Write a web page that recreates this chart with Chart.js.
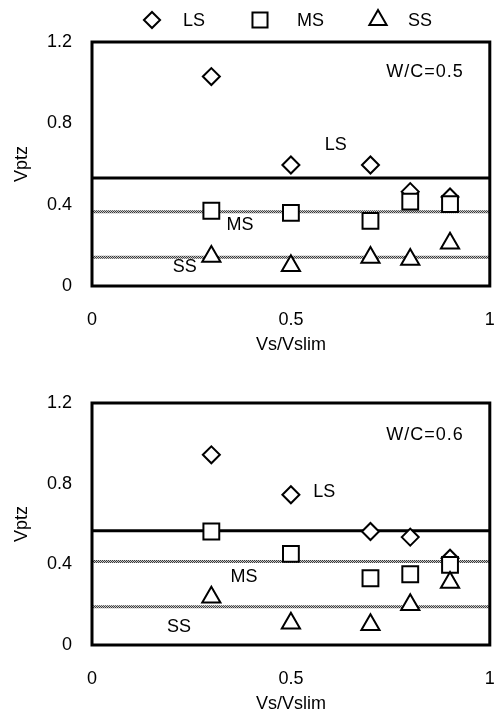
<!DOCTYPE html>
<html>
<head>
<meta charset="utf-8">
<script src="https://cdn.jsdelivr.net/npm/chart.js@4.4.1/dist/chart.umd.min.js"></script>
<style>
  html, body { margin: 0; padding: 0; background: #fff; }
  #wrap { position: relative; width: 503px; height: 717px; }
  .box { position: absolute; left: 0; width: 503px; }
  #boxTop { top: 0; height: 358px; }
  #boxBot { top: 358px; height: 359px; }
</style>
</head>
<body>
<div id="wrap">
  <div class="box" id="boxTop"><canvas id="cTop"></canvas></div>
  <div class="box" id="boxBot"><canvas id="cBot"></canvas></div>
</div>
<script>
// Shear-span ratio positions (Vs/Vslim)
const vsRatio = [0.3, 0.5, 0.7, 0.8, 0.9];

// W/C = 0.5
const ls05 = [1.03, 0.595, 0.595, 0.464, 0.438];
const ms05 = [0.37, 0.36, 0.32, 0.415, 0.403];
const ss05 = [0.145, 0.10, 0.14, 0.13, 0.21];
const ref05 = { ls: 0.531, ms: 0.365, ss: 0.142 };

// W/C = 0.6
const ls06 = [0.943, 0.745, 0.563, 0.535, 0.43];
const ms06 = [0.563, 0.452, 0.331, 0.351, 0.397];
const ss06 = [0.237, 0.108, 0.10, 0.199, 0.31];
const ref06 = { ls: 0.567, ms: 0.414, ss: 0.19 };

const xTicks = [0, 0.5, 1];
const yTicks = [0, 0.4, 0.8, 1.2];
const seriesNames = ['LS', 'MS', 'SS'];

// In-plot annotations: [text, x, y]
const notes05 = [['W/C=0.5', 0.837, 1.05], ['LS', 0.613, 0.694], ['MS', 0.372, 0.30], ['SS', 0.233, 0.092]];
const notes06 = [['W/C=0.6', 0.837, 1.043], ['LS', 0.584, 0.761], ['MS', 0.382, 0.336], ['SS', 0.219, 0.091]];

const FONT = '"Liberation Sans", Arial, Helvetica, sans-serif';
const FSIZE = 18;

// 1px checker pattern for the dithered grey reference lines
function ditherPattern() {
  const c = document.createElement('canvas');
  c.width = 2; c.height = 2;
  const g = c.getContext('2d');
  g.fillStyle = '#c8c8c8'; g.fillRect(0, 0, 2, 2);
  g.fillStyle = '#3a3a3a'; g.fillRect(0, 0, 1, 1); g.fillRect(1, 1, 1, 1);
  return g.createPattern(c, 'repeat');
}

const markerStyles = {
  LS: { pointStyle: 'rectRot', radius: 8.5 },
  MS: { pointStyle: 'rect', radius: 11.2 },
  SS: { pointStyle: 'triangle', radius: 10.5 }
};

function pts(ys) { return vsRatio.map((x, i) => ({ x: x, y: ys[i] })); }
function hline(v) { return [{ x: 0, y: v }, { x: 1, y: v }]; }

function buildDatasets(ls, ms, ss, ref) {
  const pattern = ditherPattern();
  const marker = (name, data, order) => ({
    type: 'scatter', label: name, data: pts(data), order: order,
    pointStyle: markerStyles[name].pointStyle,
    pointRadius: markerStyles[name].radius,
    pointHoverRadius: markerStyles[name].radius,
    pointBorderWidth: 2,
    pointBorderColor: '#000',
    pointBackgroundColor: '#fff',
    showLine: false
  });
  const line = (v, color, order) => ({
    type: 'line', label: '', data: hline(v), order: order,
    borderColor: color, borderWidth: 3, pointRadius: 0, fill: false
  });
  return [
    marker('SS', ss, 1),
    marker('MS', ms, 2),
    marker('LS', ls, 3),
    line(ref.ls, '#000', 10),
    line(ref.ms, pattern, 11),
    line(ref.ss, pattern, 12)
  ];
}

// Thick frame round the plotting area
const framePlugin = {
  id: 'frame',
  afterDatasetsDraw(chart) {
    const a = chart.chartArea, ctx = chart.ctx;
    ctx.save();
    ctx.strokeStyle = '#000';
    ctx.lineWidth = 3;
    ctx.strokeRect(a.left, a.top, a.right - a.left, a.bottom - a.top);
    ctx.restore();
  }
};

// Text notes placed at data coordinates
const notesPlugin = {
  id: 'notes',
  afterDatasetsDraw(chart, args, opts) {
    const ctx = chart.ctx, xs = chart.scales.x, ys = chart.scales.y;
    ctx.save();
    ctx.fillStyle = '#000';
    ctx.font = FSIZE + 'px ' + FONT;
    ctx.textAlign = 'center';
    ctx.textBaseline = 'middle';
    (opts.items || []).forEach(([t, x, y]) => {
      ctx.letterSpacing = t.length > 3 ? '1px' : '0px';
      ctx.fillText(t, xs.getPixelForValue(x), ys.getPixelForValue(y));
    });
    ctx.restore();
  }
};

// Marker key across the top, using each series' own marker style
const keyPlugin = {
  id: 'key',
  afterDraw(chart, args, opts) {
    if (!opts.show) return;
    const ctx = chart.ctx;
    const slots = [[152, 183], [260, 297], [378, 408]];
    ctx.save();
    seriesNames.forEach((name, i) => {
      const st = markerStyles[name];
      ctx.strokeStyle = '#000';
      ctx.fillStyle = '#fff';
      ctx.lineWidth = 2;
      Chart.helpers.drawPoint(ctx, { pointStyle: st.pointStyle, radius: st.radius * 0.95, borderWidth: 2 }, slots[i][0], 20);
      ctx.fillStyle = '#000';
      ctx.font = FSIZE + 'px ' + FONT;
      ctx.textAlign = 'left';
      ctx.textBaseline = 'middle';
      ctx.fillText(name, slots[i][1], 21);
    });
    ctx.restore();
  }
};

const noPad = () => ({ left: 0, right: 0, top: 0, bottom: 0 });

function makeChart(id, ls, ms, ss, ref, notes, showKey, topPad, xHeight) {
  return new Chart(document.getElementById(id), {
    data: { datasets: buildDatasets(ls, ms, ss, ref) },
    options: {
      responsive: true,
      maintainAspectRatio: false,
      animation: false,
      layout: { padding: { top: topPad, right: 8, left: 0, bottom: 0 } },
      plugins: {
        legend: { display: false },
        tooltip: { enabled: false },
        notes: { items: notes },
        key: { show: showKey }
      },
      scales: {
        x: {
          type: 'linear', min: 0, max: 1,
          afterBuildTicks: s => { s.ticks = xTicks.map(v => ({ value: v })); },
          afterFit: s => { s.height = xHeight; s.paddingLeft = 0; s.paddingRight = 0; s.getPadding = noPad; },
          grid: { display: false, drawTicks: false, tickLength: 0 },
          border: { display: false },
          ticks: { color: '#000', padding: 23, font: { family: FONT, size: FSIZE }, maxRotation: 0,
                   callback: v => String(v) },
          title: { display: true, text: 'Vs/Vslim', color: '#000', font: { family: FONT, size: FSIZE },
                   padding: { top: 0, bottom: 2 } }
        },
        y: {
          type: 'linear', min: 0, max: 1.2,
          afterBuildTicks: s => { s.ticks = yTicks.map(v => ({ value: v })); },
          afterFit: s => { s.width = 92; s.paddingTop = 0; s.paddingBottom = 0; s.getPadding = noPad; },
          grid: { display: false, drawTicks: false, tickLength: 0 },
          border: { display: false },
          ticks: { color: '#000', padding: 20, font: { family: FONT, size: FSIZE },
                   callback: v => String(v) },
          title: { display: true, text: 'Vptz', color: '#000', font: { family: FONT, size: FSIZE },
                   padding: { top: 11, bottom: 0 } }
        }
      }
    },
    plugins: [framePlugin, notesPlugin, keyPlugin]
  });
}

makeChart('cTop', ls05, ms05, ss05, ref05, notes05, true, 42, 72);
makeChart('cBot', ls06, ms06, ss06, ref06, notes06, false, 45, 72);
</script>
</body>
</html>
